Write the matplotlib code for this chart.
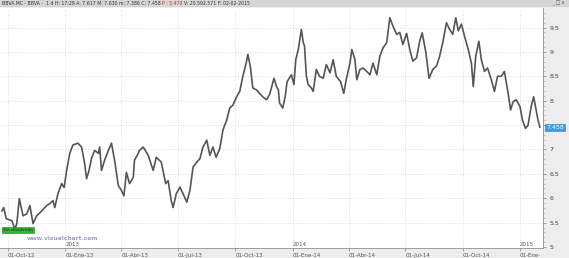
import matplotlib
matplotlib.use("Agg")
import matplotlib.pyplot as plt
from matplotlib.patches import Rectangle
from matplotlib.transforms import offset_copy
import pandas as pd

# closing prices (BBVA.MC, daily)
dates = [
    "2012-09-21", "2012-09-24", "2012-09-28", "2012-10-07", "2012-10-12", "2012-10-15",
    "2012-10-19", "2012-10-25", "2012-10-31", "2012-11-05", "2012-11-10", "2012-11-16",
    "2012-11-24", "2012-12-02", "2012-12-07", "2012-12-12", "2012-12-15", "2012-12-20",
    "2012-12-26", "2012-12-30", "2013-01-03", "2013-01-08", "2013-01-13", "2013-01-21",
    "2013-01-27", "2013-02-01", "2013-02-04", "2013-02-08", "2013-02-12", "2013-02-17",
    "2013-02-23", "2013-02-25", "2013-02-28", "2013-03-05", "2013-03-11", "2013-03-16",
    "2013-03-21", "2013-03-27", "2013-04-01", "2013-04-05", "2013-04-09", "2013-04-14",
    "2013-04-20", "2013-04-22", "2013-04-28", "2013-04-30", "2013-05-06", "2013-05-14",
    "2013-05-22", "2013-05-27", "2013-06-04", "2013-06-11", "2013-06-15", "2013-06-20",
    "2013-06-23", "2013-06-28", "2013-07-04", "2013-07-09", "2013-07-15", "2013-07-20",
    "2013-07-25", "2013-07-31", "2013-08-05", "2013-08-10", "2013-08-16", "2013-08-21",
    "2013-08-26", "2013-08-31", "2013-09-06", "2013-09-11", "2013-09-17", "2013-09-22",
    "2013-09-27", "2013-10-03", "2013-10-08", "2013-10-13", "2013-10-19", "2013-10-21",
    "2013-10-25", "2013-10-29", "2013-11-04", "2013-11-09", "2013-11-14", "2013-11-20",
    "2013-11-25", "2013-12-02", "2013-12-06", "2013-12-09", "2013-12-11", "2013-12-16",
    "2013-12-20", "2013-12-23", "2013-12-30", "2014-01-03", "2014-01-06", "2014-01-10",
    "2014-01-15", "2014-01-18", "2014-01-20", "2014-01-23", "2014-01-26", "2014-01-31",
    "2014-02-03", "2014-02-08", "2014-02-13", "2014-02-19", "2014-02-24", "2014-03-02",
    "2014-03-07", "2014-03-12", "2014-03-19", "2014-03-24", "2014-03-28", "2014-04-03",
    "2014-04-06", "2014-04-11", "2014-04-14", "2014-04-19", "2014-04-24", "2014-04-30",
    "2014-05-05", "2014-05-10", "2014-05-16", "2014-05-21", "2014-05-26", "2014-06-01",
    "2014-06-06", "2014-06-11", "2014-06-17", "2014-06-22", "2014-06-27", "2014-07-03",
    "2014-07-08", "2014-07-13", "2014-07-19", "2014-07-24", "2014-07-28", "2014-08-03",
    "2014-08-08", "2014-08-14", "2014-08-20", "2014-08-25", "2014-08-30", "2014-09-05",
    "2014-09-10", "2014-09-15", "2014-09-20", "2014-09-24", "2014-09-29", "2014-10-04",
    "2014-10-10", "2014-10-15", "2014-10-18", "2014-10-22", "2014-10-27", "2014-10-31",
    "2014-11-05", "2014-11-10", "2014-11-16", "2014-11-21", "2014-11-26", "2014-12-02",
    "2014-12-07", "2014-12-13", "2014-12-17", "2014-12-21", "2014-12-26", "2015-01-01",
    "2015-01-05", "2015-01-10", "2015-01-14", "2015-01-19", "2015-01-23", "2015-01-27",
    "2015-01-30", "2015-02-02",
]
closes = [
    5.74, 5.81, 5.58, 5.54, 5.37, 5.48,
    5.99, 5.64, 5.68, 5.85, 5.48, 5.64,
    5.74, 5.85, 5.89, 5.95, 5.81, 6.09,
    6.30, 6.22, 6.57, 6.92, 7.09, 7.13,
    7.05, 6.71, 6.40, 6.57, 6.82, 6.98,
    6.92, 7.05, 6.57, 6.78, 6.98, 7.13,
    6.78, 6.26, 6.16, 6.05, 6.53, 6.30,
    6.43, 6.78, 6.92, 6.98, 7.05, 6.88,
    6.57, 6.84, 6.74, 6.30, 6.36, 5.95,
    5.81, 6.09, 6.23, 6.09, 5.92, 6.16,
    6.64, 6.74, 6.81, 7.05, 7.19, 6.88,
    7.05, 6.84, 7.02, 7.40, 7.60, 7.85,
    7.91, 8.08, 8.19, 8.50, 8.81, 8.95,
    8.70, 8.26, 8.22, 8.15, 8.08, 8.02,
    8.13, 8.46, 8.29, 8.22, 7.95, 7.85,
    8.08, 8.39, 8.53, 8.33, 8.84, 9.05,
    9.46, 9.19, 9.12, 8.50, 8.33, 8.26,
    8.19, 8.64, 8.50, 8.46, 8.74, 8.57,
    8.84, 8.50, 8.39, 8.15, 8.43, 8.77,
    9.05, 8.84, 8.43, 8.64, 8.67, 8.60,
    8.53, 8.77, 8.53, 8.91, 9.08, 9.19,
    9.70, 9.53, 9.36, 9.40, 9.15, 9.38,
    9.05, 8.81, 8.88, 9.22, 9.39, 8.98,
    8.46, 8.64, 8.71, 8.91, 9.19, 9.60,
    9.46, 9.36, 9.70, 9.43, 9.57, 9.32,
    9.05, 8.77, 8.29, 8.91, 9.22, 8.84,
    8.60, 8.67, 8.43, 8.19, 8.50, 8.50,
    8.60, 8.15, 7.81, 7.98, 8.02, 7.88,
    7.60, 7.43, 7.50, 7.88, 8.08, 7.81,
    7.60, 7.458,
]

tick_dates = ["2012-10-01", "2013-01-01", "2013-04-01", "2013-07-01", "2013-10-01",
              "2014-01-01", "2014-04-01", "2014-07-01", "2014-10-01", "2015-01-01"]
tick_labels = ["01-Oct-12", "01-Ene-13", "01-Abr-13", "01-Jul-13", "01-Oct-13",
               "01-Ene-14", "01-Abr-14", "01-Jul-14", "01-Oct-14", "01-Ene-"]
year_dates = ["2013-01-01", "2014-01-01", "2015-01-01"]
year_labels = ["2013", "2014", "2015"]
price_ticks = [5, 5.5, 6, 6.5, 7, 7.5, 8, 8.5, 9, 9.5]
# 7.5 is hidden behind the last-price box
price_labels = ["5", "5.5", "6", "6.5", "7", "", "8", "8.5", "9", "9.5"]
last_close = 7.458

header_parts = [
    ("BBVA.MC - BBVA -  1 d H: 17:29 A: 7.617 M: 7.630 m: 7.386 C: 7.458 ", "#333333"),
    ("P : 5.470 ", "#e02020"),
    ("V: 20.592.571 F: 02-02-2015", "#333333"),
]

x = pd.to_datetime(dates)

fig = plt.figure(figsize=(5.69, 2.58), dpi=100)
fig.patch.set_facecolor("#ededed")
ax = fig.add_axes([0, 1 - 248 / 258, 543 / 569, (248 - 8) / 258])
ax.set_facecolor("white")

ax.plot(x, closes, color="#555555", linewidth=1.2)

ax.set_xlim(pd.Timestamp("2012-09-18"), pd.Timestamp("2015-02-07"))
ax.set_ylim(4.98, 9.9)

# grid
for d in tick_dates:
    ax.axvline(pd.Timestamp(d), color="#d0d0d0", linestyle=(0, (1, 2)), linewidth=0.6, zorder=0)
for p in price_ticks[1:]:
    ax.axhline(p, color="#d0d0d0", linestyle=(0, (1, 2)), linewidth=0.6, zorder=0)

# axes and ticks
for side in ["left", "top"]:
    ax.spines[side].set_visible(False)
ax.spines["right"].set_color("#909090")
ax.spines["bottom"].set_color("#909090")
ax.spines["right"].set_linewidth(0.6)
ax.spines["bottom"].set_linewidth(0.6)

ax.yaxis.tick_right()
ax.set_yticks(price_ticks)
ax.set_yticklabels(price_labels)
ax.set_yticks([v / 10 for v in range(50, 99)], minor=True)
ax.tick_params(axis="y", which="major", length=2.5, width=0.5, color="#808080",
               labelsize=4.5, labelcolor="#444444", pad=2)
ax.tick_params(axis="y", which="minor", length=1.2, width=0.4, color="#a0a0a0")

ax.set_xticks(pd.to_datetime(tick_dates))
ax.set_xticklabels(tick_labels)
ax.tick_params(axis="x", length=2, width=0.5, color="#808080", direction="out",
               labelsize=4, labelcolor="#555555", pad=1.5)
for lbl in ax.get_xticklabels():
    lbl.set_horizontalalignment("left")

# year markers
for d, yl in zip(year_dates, year_labels):
    ax.text(pd.Timestamp(d), 5.0, yl, fontsize=4, color="#555555",
            ha="left", va="bottom")

# last price box
ax.text(1.006, last_close, "7.458", transform=ax.get_yaxis_transform(),
        fontsize=4.5, color="white", ha="left", va="center",
        bbox=dict(boxstyle="square,pad=0.15", fc="#3a9be8", ec="#1f7fd0", lw=0.4))

# "Sin dividendo" label and watermark
ax.text(0.006, 0.075, "Sin dividendo", transform=ax.transAxes, fontsize=3.2,
        color="#113311", ha="left", va="center",
        bbox=dict(boxstyle="square,pad=0.2", fc="#33b233", ec="#208020", lw=0.4))
ax.text(0.05, 0.04, "www.visualchart.com", transform=ax.transAxes, fontsize=4.2,
        color="#9a9ac8", ha="left", va="center", fontweight="bold")

# header bar
fig.patches.append(Rectangle((0, 1 - 7 / 258), 1, 7 / 258, transform=fig.transFigure,
                             facecolor="#d6d6d6", edgecolor="none", zorder=0))
hdr_y = 1 - 3.5 / 258
renderer = fig.canvas.get_renderer()
tr = fig.transFigure
for txt, col in header_parts:
    t = fig.text(2 / 569, hdr_y, txt, fontsize=3.3, color=col, ha="left", va="center",
                 transform=tr)
    w = t.get_window_extent(renderer).width
    tr = offset_copy(tr, fig=fig, x=w, y=0, units="dots")
fig.text(565 / 569, hdr_y, "_ \u25a1 x", fontsize=3.3, color="#555555", ha="right", va="center")

fig.savefig("out.png", dpi=100, facecolor=fig.get_facecolor())
